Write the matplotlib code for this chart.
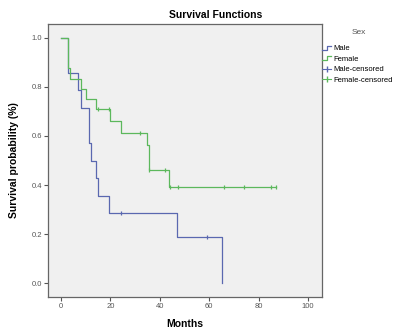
import matplotlib
matplotlib.use("Agg")
import matplotlib.pyplot as plt
from matplotlib.lines import Line2D
from matplotlib.legend_handler import HandlerBase

plt.rcParams['font.family'] = ['Liberation Sans', 'DejaVu Sans']

# Kaplan-Meier steps (time in months, survival)
male_times = [0, 3, 7, 8, 11.5, 12, 14, 15, 19.5, 47, 65.3]
male_surv = [1.0, 0.857, 0.786, 0.714, 0.571, 0.5, 0.429, 0.357, 0.286, 0.190, 0.0]
male_cens_times = [24.2, 59.2]
male_cens_surv = [0.286, 0.190]

female_times = [0, 2.6, 3.6, 8, 10, 14.2, 20, 24.2, 34.7, 35.5, 43.6, 87]
female_surv = [1.0, 0.875, 0.833, 0.792, 0.75, 0.708, 0.661, 0.614, 0.563, 0.46, 0.394, 0.394]
female_cens_times = [14.8, 19.4, 32, 35.8, 42.2, 44.2, 47.2, 66.1, 74.2, 85, 87]
female_cens_surv = [0.708, 0.708, 0.614, 0.46, 0.46, 0.394, 0.394, 0.394, 0.394, 0.394, 0.394]

male_color = '#5a68b0'
female_color = '#5cb85c'


class StepHandler(HandlerBase):
    """little step icon like the SPSS legend"""
    def create_artists(self, legend, orig_handle, xdescent, ydescent,
                       width, height, fontsize, trans):
        xs = [0, width * 0.55, width * 0.55, width]
        ys = [0.15 * height, 0.15 * height, 0.85 * height, 0.85 * height]
        ln = Line2D([x - xdescent for x in xs], [y - ydescent for y in ys],
                    color=orig_handle.get_color(), lw=0.9, transform=trans)
        return [ln]


fig = plt.figure(figsize=(3.98, 3.31), dpi=100)
ax = fig.add_axes([48 / 398, 34 / 331, 274 / 398, 273 / 331])
ax.set_facecolor('#f0f0f0')

ax.step(male_times, male_surv, where='post', color=male_color, lw=0.9)
ax.step(female_times, female_surv, where='post', color=female_color, lw=0.9)
ax.plot(male_cens_times, male_cens_surv, ls='none', marker='|', ms=3,
        mew=0.9, color=male_color)
ax.plot(female_cens_times, female_cens_surv, ls='none', marker='|', ms=3,
        mew=0.9, color=female_color)

ax.set_xlim(-5.3, 105.7)
ax.set_ylim(-0.056, 1.056)
ax.set_xticks([0, 20, 40, 60, 80, 100])
ax.set_yticks([0.0, 0.2, 0.4, 0.6, 0.8, 1.0])
ax.set_yticklabels(['0.0', '0.2', '0.4', '0.6', '0.8', '1.0'])
ax.tick_params(labelsize=5.5, colors='#555555', length=3, width=0.8, pad=1.5)
for s in ax.spines.values():
    s.set_color('#666666')
    s.set_linewidth(0.9)

ax.set_xlabel('Months', fontsize=7.5, fontweight='bold', labelpad=6)
ax.set_ylabel('Survival probability (%)', fontsize=7.5, fontweight='bold', labelpad=9)
fig.text(216 / 398, 1 - 15 / 331, 'Survival Functions', fontsize=7.5,
         fontweight='bold', ha='center', va='center')
fig.text(359 / 398, 1 - 33 / 331, 'Sex', fontsize=6, color='#555555',
         ha='center', va='center')

handles = [Line2D([], [], color=male_color),
           Line2D([], [], color=female_color),
           Line2D([], [], color=male_color, marker='|', ls='-', lw=0.8, ms=5),
           Line2D([], [], color=female_color, marker='|', ls='-', lw=0.8, ms=5)]
labels = ['Male', 'Female', 'Male-censored', 'Female-censored']
fig.legend(handles, labels, loc='upper left',
           bbox_to_anchor=(322 / 398, 1 - 45 / 331), frameon=False,
           fontsize=5.5, handlelength=1.2, handletextpad=0.3,
           labelspacing=0.42, borderaxespad=0, borderpad=0,
           handler_map={handles[0]: StepHandler(), handles[1]: StepHandler()})

fig.savefig('out.png', dpi=100, facecolor='w')
